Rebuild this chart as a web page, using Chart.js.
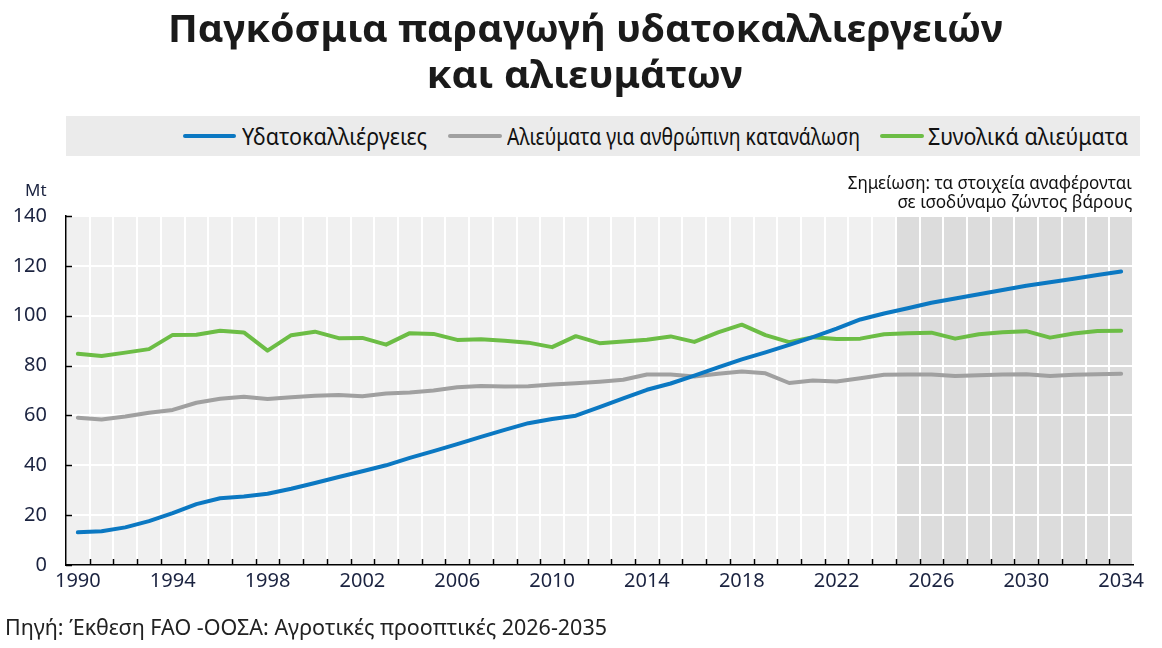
<!DOCTYPE html>
<html lang="el">
<head>
<meta charset="utf-8">
<script src="https://cdn.jsdelivr.net/npm/chart.js@4.4.1/dist/chart.umd.min.js"></script>
<style>
  body { margin: 0; background: #fff; }
  #page { position: relative; width: 1162px; height: 648px; overflow: hidden;
          font-family: "Noto Sans", sans-serif; color: #111; }
  #chartBox { position: absolute; left: 0; top: 0; width: 1162px; height: 648px; }
  .fit { position: absolute; display: inline-block; white-space: nowrap; }
  .title { font-weight: 700; font-size: 38px; line-height: 46px; color: #1a1a1a; transform-origin: center top; }
  .legend { position: absolute; left: 66px; top: 116px; width: 1074px; height: 40px; background: #ebebeb; }
  .key { position: absolute; top: 18px; height: 4px; border-radius: 2px; }
  .lab { top: 5px; font-size: 23px; line-height: 30px; font-stretch: condensed; transform-origin: left top; }
  .note { font-size: 18px; line-height: 20px; font-stretch: condensed; transform-origin: right top; }
  .unit { left: 25px; top: 180px; font-size: 17px; line-height: 20px; color: #1b2340; font-stretch: condensed; }
  .source { left: 5px; top: 613px; font-size: 21px; line-height: 28px; color: #222; transform-origin: left top; }
</style>
</head>
<body>
<div id="page">
  <div id="chartBox"><canvas id="fishChart"></canvas></div>
  <span class="fit title" style="top:4px" data-w="835" data-cx="585">Παγκόσμια παραγωγή υδατοκαλλιεργειών</span>
  <span class="fit title" style="top:50px" data-w="316" data-cx="585">και αλιευμάτων</span>
  <div class="legend">
    <span class="key" style="left:117px;width:53px;background:#0b78c2"></span>
    <span class="fit lab" style="left:176px" data-w="185">Υδατοκαλλιέργειες</span>
    <span class="key" style="left:382px;width:54px;background:#a0a0a0"></span>
    <span class="fit lab" style="left:441px" data-w="353">Αλιεύματα για ανθρώπινη κατανάλωση</span>
    <span class="key" style="left:814px;width:44px;background:#6cbd45"></span>
    <span class="fit lab" style="left:862px" data-w="200">Συνολικά αλιεύματα</span>
  </div>
  <span class="fit note" style="right:30px;top:172px" data-w="284">Σημείωση: τα στοιχεία αναφέρονται</span>
  <span class="fit note" style="right:30px;top:191px" data-w="235">σε ισοδύναμο ζώντος βάρους</span>
  <span class="fit unit">Mt</span>
  <span class="fit source" data-w="602">Πηγή: Έκθεση FAO -ΟΟΣΑ: Αγροτικές προοπτικές 2026-2035</span>
</div>
<script>
const years = ["1990","1991","1992","1993","1994","1995","1996","1997","1998","1999",
  "2000","2001","2002","2003","2004","2005","2006","2007","2008","2009",
  "2010","2011","2012","2013","2014","2015","2016","2017","2018","2019",
  "2020","2021","2022","2023","2024","2025","2026","2027","2028","2029",
  "2030","2031","2032","2033","2034"];

// Mt
const aquaculture = [13.1,13.5,15.1,17.6,20.8,24.4,26.8,27.5,28.6,30.6,
  32.9,35.3,37.6,40.0,43.0,45.7,48.5,51.4,54.2,56.9,
  58.6,59.9,63.3,66.8,70.3,72.8,76.0,79.3,82.5,85.3,
  88.3,91.4,94.8,98.5,100.9,103.0,105.2,106.9,108.6,110.3,
  112.0,113.4,114.8,116.3,117.7];
const humanUse = [59.1,58.4,59.6,61.1,62.2,65.1,66.7,67.5,66.6,67.3,
  67.9,68.2,67.7,68.8,69.2,70.0,71.3,71.8,71.6,71.7,
  72.4,72.9,73.5,74.3,76.4,76.4,75.6,76.7,77.6,76.9,
  73.0,74.0,73.6,74.9,76.3,76.4,76.4,75.8,76.1,76.4,
  76.5,75.8,76.3,76.5,76.7];
const totalCatch = [84.7,83.8,85.2,86.6,92.3,92.4,94.0,93.3,86.0,92.2,
  93.6,91.0,91.1,88.4,93.0,92.7,90.3,90.6,90.0,89.2,
  87.4,91.8,89.0,89.7,90.4,91.7,89.5,93.3,96.4,92.2,
  89.4,91.4,90.7,90.8,92.6,93.0,93.2,90.8,92.6,93.4,
  93.8,91.2,92.9,93.9,94.0];
const yTicks = [0,20,40,60,80,100,120,140];
const labelEvery = 4;
const projectionStart = "2025";

// squeeze the html texts to the widths they have in the picture
document.querySelectorAll(".fit[data-w]").forEach((el) => {
  const w = el.getBoundingClientRect().width;
  el.style.transform = "scaleX(" + (+el.dataset.w / w) + ")";
  if (el.dataset.cx) el.style.left = (+el.dataset.cx - w / 2) + "px";
});

// plot background + shaded projection years
const plotBackground = {
  id: "plotBackground",
  beforeDraw(chart) {
    const { ctx, chartArea: a, scales: { x } } = chart;
    ctx.save();
    ctx.fillStyle = "#f0f0f0";
    ctx.fillRect(a.left, a.top, a.right - a.left, a.bottom - a.top);
    const i = years.indexOf(projectionStart);
    const edge = (x.getPixelForValue(i - 1) + x.getPixelForValue(i)) / 2;
    ctx.fillStyle = "#dcdcdc";
    ctx.fillRect(edge, a.top, a.right - edge, a.bottom - a.top);
    ctx.restore();
  },
};

// small tick marks pointing into the plot
const innerTicks = {
  id: "innerTicks",
  afterDraw(chart) {
    const { ctx, chartArea: a, scales: { x, y } } = chart;
    ctx.save();
    ctx.strokeStyle = "#000";
    ctx.lineWidth = 1.5;
    ctx.beginPath();
    yTicks.forEach((v) => {
      const py = Math.round(y.getPixelForValue(v)) + 0.5;
      ctx.moveTo(a.left, py);
      ctx.lineTo(a.left + 6, py);
    });
    for (let i = 0; i < years.length - 1; i++) {
      const px = Math.round((x.getPixelForValue(i) + x.getPixelForValue(i + 1)) / 2) + 0.5;
      ctx.moveTo(px, a.bottom);
      ctx.lineTo(px, a.bottom - 6);
    }
    ctx.stroke();
    ctx.restore();
  },
};

// "condensed" rides in the weight slot so it lands before the size in the font string
const tickFont = { family: "'Noto Sans', sans-serif", size: 20, weight: "condensed" };

new Chart(document.getElementById("fishChart"), {
  type: "line",
  data: {
    labels: years,
    datasets: [
      { label: "Υδατοκαλλιέργειες", data: aquaculture, borderColor: "#0b78c2" },
      { label: "Αλιεύματα για ανθρώπινη κατανάλωση", data: humanUse, borderColor: "#a0a0a0" },
      { label: "Συνολικά αλιεύματα", data: totalCatch, borderColor: "#6cbd45" },
    ],
  },
  options: {
    responsive: true,
    maintainAspectRatio: false,
    animation: false,
    layout: { padding: { left: 0, top: 216, right: 29, bottom: 40 } },
    elements: {
      point: { radius: 0 },
      line: { borderWidth: 4, tension: 0, borderJoinStyle: "round", borderCapStyle: "round" },
    },
    scales: {
      x: {
        offset: true,
        grid: { offset: true, color: "#ffffff", lineWidth: 2, drawTicks: false },
        border: { display: true, color: "#000", width: 1.5 },
        ticks: {
          autoSkip: false,
          maxRotation: 0,
          padding: 4,
          color: "#1b2340",
          font: tickFont,
          callback: (v, i) => (i % labelEvery === 0 ? years[i] : ""),
        },
        afterFit: (s) => { s.height = 43; },
      },
      y: {
        min: 0,
        max: 140,
        grid: { color: "#ffffff", lineWidth: 2, drawTicks: false },
        border: { display: true, color: "#000", width: 1.5 },
        ticks: { stepSize: 20, padding: 19, color: "#1b2340", font: tickFont },
        afterFit: (s) => { s.width = 66; },
      },
    },
    plugins: {
      legend: { display: false },
      tooltip: { enabled: false },
    },
  },
  plugins: [plotBackground, innerTicks],
});
</script>
</body>
</html>
